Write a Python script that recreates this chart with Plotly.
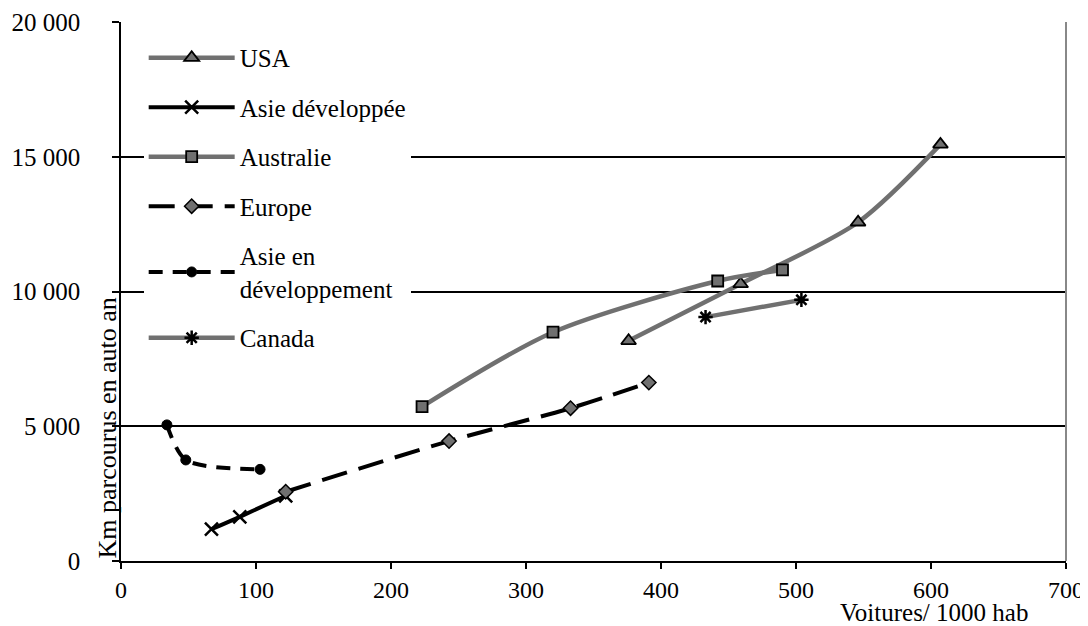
import plotly.graph_objects as go

# Data (Voitures/1000 hab, Km parcourus en auto an)
usa_x = [376, 459, 546, 607]
usa_y = [8170, 10280, 12570, 15460]

asie_dev_x = [67, 88, 122]
asie_dev_y = [1180, 1640, 2420]

australie_x = [223, 320, 442, 490]
australie_y = [5730, 8490, 10390, 10800]

europe_x = [122, 243, 333, 391]
europe_y = [2570, 4450, 5670, 6620]

asie_endev_x = [34, 48, 103]
asie_endev_y = [5050, 3750, 3400]

canada_x = [433, 504]
canada_y = [9050, 9690]

x_ticks = [0, 100, 200, 300, 400, 500, 600, 700]
y_ticks = [0, 5000, 10000, 15000, 20000]

GRAY = "#707070"
FONT = "Liberation Serif"
FS = 25

fig = go.Figure()

def add(name, xs, ys, color, width, dash, symbol, msize, mcolor, mline, mlinecolor, group):
    fig.add_trace(go.Scatter(
        x=xs, y=ys, name=name, mode="lines+markers",
        legendgroup=group,
        line=dict(color=color, width=width, dash=dash, shape="spline", smoothing=0.8),
        marker=dict(symbol=symbol, size=msize, color=mcolor,
                    line=dict(color=mlinecolor, width=mline)),
    ))

add("USA", usa_x, usa_y, GRAY, 4.5, "solid", "triangle-up", 13, GRAY, 1.8, "black", "a")
add("Asie développée", asie_dev_x, asie_dev_y, "black", 4, "solid", "x-thin-open", 13, "black", 2.5, "black", "b")
add("Australie", australie_x, australie_y, GRAY, 4.5, "solid", "square", 11, GRAY, 1.8, "black", "c")
add("Europe", europe_x, europe_y, "black", 4, "26px,12px", "diamond", 11, GRAY, 1.5, "black", "d")
add("Asie en<br>développement", asie_endev_x, asie_endev_y, "black", 4, "14px,10px", "circle", 10, "black", 1, "black", "e")
add("Canada", canada_x, canada_y, GRAY, 4.5, "solid", "asterisk-open", 12, "black", 2.5, "black", "f")

fig.update_layout(
    width=1088, height=626,
    margin=dict(l=113, r=30, t=14, b=73, autoexpand=False),
    paper_bgcolor="white", plot_bgcolor="white",
    separators=". ",
    font=dict(family=FONT, size=FS, color="black"),
    showlegend=True,
    legend=dict(
        x=0.024, y=0.976, xanchor="left", yanchor="top",
        bgcolor="white", borderwidth=0,
        font=dict(family=FONT, size=FS, color="black"),
        traceorder="grouped", tracegroupgap=14,
        itemwidth=86,
    ),
    xaxis=dict(
        range=[0, 700], tickvals=x_ticks, showgrid=False, zeroline=False,
        showline=True, linecolor="black", linewidth=1.5, automargin=False,
        ticks="outside", ticklen=6, tickcolor="black", tickwidth=1.5,
        tickfont=dict(family=FONT, size=24), fixedrange=True,
    ),
    yaxis=dict(
        range=[0, 20000], tickvals=y_ticks, tickformat=",d",
        showgrid=True, gridcolor="black", gridwidth=1.5, zeroline=False,
        showline=True, linecolor="black", linewidth=1.5, automargin=False,
        ticks="outside", ticklen=7, tickcolor="black", tickwidth=1.5,
        ticklabelstandoff=27,
        tickfont=dict(family=FONT, size=FS), fixedrange=True,
    ),
    shapes=[
        dict(type="line", xref="paper", yref="paper", x0=1, x1=1, y0=0, y1=1,
             line=dict(color="#888888", width=2)),
    ],
    annotations=[
        dict(text="Voitures/ 1000 hab", xref="paper", yref="paper",
             x=0.962, y=0, yshift=-51, xanchor="right", yanchor="middle",
             showarrow=False, font=dict(family=FONT, size=FS)),
        dict(text="Km parcourus en auto an", xref="paper", yref="paper",
             x=0, xshift=-14, y=0, yanchor="bottom", xanchor="center",
             textangle=-90, showarrow=False, font=dict(family=FONT, size=FS + 1)),
    ],
)

fig.write_html("out.html")
